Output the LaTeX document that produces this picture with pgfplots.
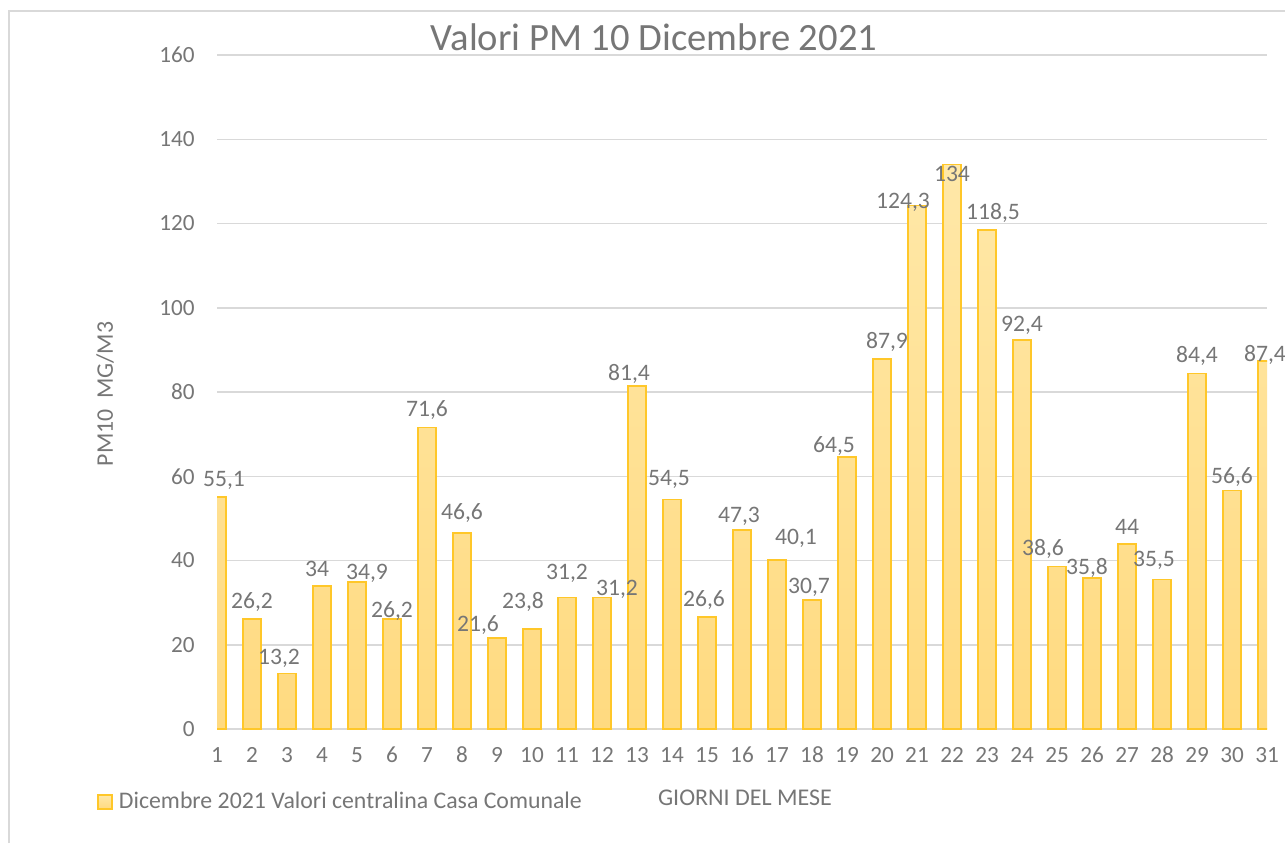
\documentclass[border=0pt]{standalone}
\usepackage{fontspec}
\setmainfont{Carlito}
\usepackage{pgfplots}
\pgfplotsset{compat=1.18}
\usepackage{pgfplotstable}
\definecolor{txt}{HTML}{767676}
\definecolor{gridc}{HTML}{D9D9D9}
\definecolor{bartop}{HTML}{FFE8A8}
\definecolor{barbot}{HTML}{FFDA80}
\definecolor{baredge}{HTML}{FFC729}

\pgfplotstableread{
x y dx dy
1 55.1 3.5 0
2 26.2 0 0
3 13.2 -4 -1
4 34 -2.5 1
5 34.9 5 -4
6 26.2 0 -4.5
7 71.6 0 0
8 46.6 0 1.5
9 21.6 -9.5 -2
10 23.8 -4.5 5
11 31.2 0 4
12 31.2 7.5 -4
13 81.4 -4 -2.5
14 54.5 -1.5 1.5
15 26.6 -1.5 0
16 47.3 -1.5 -1.5
17 40.1 9.5 2.5
18 30.7 -1.5 -2
19 64.5 -6.5 -3
20 87.9 2.5 0
21 124.3 -7 -7
22 134 0 -12.5
23 118.5 3 0
24 92.4 0 -1
25 38.6 -7 0
26 35.8 -2.5 -3.5
27 44 0 1
28 35.5 -4 1
29 84.4 0 0
30 56.6 0 -1.5
31 87.4 -1 -5.5
}\datatable

\begin{document}
\begin{tikzpicture}
\useasboundingbox (0,0) rectangle (642.5pt,-421.5pt);
\draw[gridc, line width=0.7pt] (4.5pt,-421.5pt) -- (4.5pt,-5.5pt) -- (642.5pt,-5.5pt);
\begin{axis}[
  at={(108.5pt,-364.5pt)}, anchor=south west,
  scale only axis, width=525pt, height=337pt,
  xmin=1, xmax=31, ymin=0, ymax=160,
  xtick={1,...,31}, ytick={0,20,...,160},
  axis line style={draw=none},
  major tick length=0pt,
  ymajorgrids, grid style={gridc, line width=0.75pt},
  /pgf/number format/assume math mode=true,
  ticklabel style={font=\fontsize{11.6}{14}\selectfont, text=txt},
  xticklabel style={yshift=-5.6pt, text height=7.4pt, text depth=0pt},
  yticklabel style={xshift=-7.6pt},
  legend cell align=left,
  legend style={at={(axis description cs:-0.1143,-0.1083)}, anchor=west,
    draw=none, fill=none, inner sep=0pt, outer sep=0pt, column sep=1.5pt,
    font=\fontsize{11.9}{14}\selectfont, text=txt, nodes={inner sep=1.6pt}},
]
\addplot[ybar, bar width=9.2pt, draw=baredge, line width=0.9pt,
  top color=bartop, bottom color=barbot,
  nodes near coords={\pgfmathprintnumber[use comma,fixed,precision=1]{\pgfplotspointmeta}},
  visualization depends on={\thisrow{dx} \as \dx},
  visualization depends on={\thisrow{dy} \as \dy},
  every node near coord/.append style={font=\fontsize{11.8}{14}\selectfont, text=txt, xshift=\dx pt, yshift=\dy pt},
  legend image code/.code={\draw[baredge, line width=0.9pt, fill=bartop] (0pt,-3.6pt) rectangle (7pt,3.6pt);},
] table[x=x,y=y] {\datatable};
\addlegendentry{Dicembre 2021 Valori centralina Casa Comunale}
\end{axis}
\node[font=\fontsize{19.3}{22}\selectfont, text=txt] at (327pt,-18.5pt) {Valori PM 10 Dicembre 2021};
\node[rotate=90, font=\fontsize{11.9}{14}\selectfont, text=txt] at (52.5pt,-197pt) {PM10\ \ MG/M3};
\node[font=\fontsize{12}{14}\selectfont, text=txt] at (372.5pt,-399pt) {GIORNI DEL MESE};
\end{tikzpicture}
\end{document}
